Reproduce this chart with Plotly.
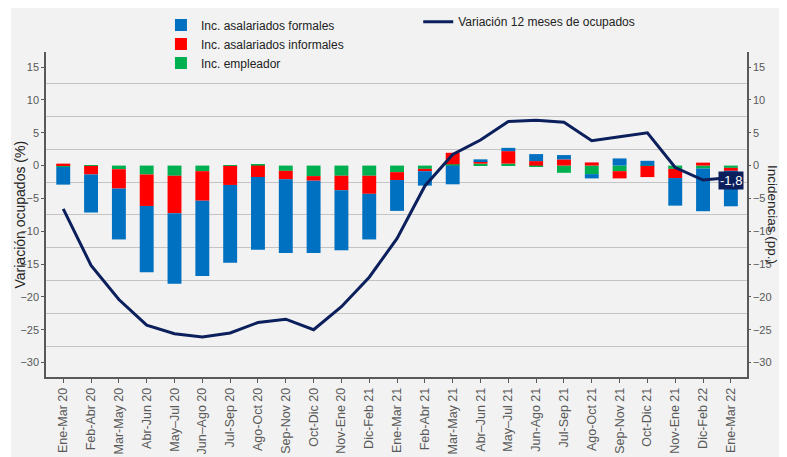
import plotly.graph_objects as go

categories = ["Ene-Mar 20", "Feb-Abr 20", "Mar-May 20", "Abr-Jun 20", "May–Jul 20",
              "Jun–Ago 20", "Jul-Sep 20", "Ago-Oct 20", "Sep-Nov 20", "Oct-Dic 20",
              "Nov-Ene 20", "Dic-Feb 21", "Ene-Mar 21", "Feb-Abr 21", "Mar-May 21",
              "Abr–Jun 21", "May–Jul 21", "Jun-Ago 21", "Jul-Sep 21", "Ago-Oct 21",
              "Sep-Nov 21", "Oct-Dic 21", "Nov-Ene 21", "Dic-Feb 22", "Ene-Mar 22"]

variacion_ocupados = [-6.6, -15.2, -20.4, -24.3, -25.6, -26.1, -25.5, -23.9, -23.4, -25.0,
                      -21.5, -17.0, -11.1, -3.1, 1.7, 3.9, 6.7, 6.9, 6.6, 3.8,
                      4.4, 5.0, -0.3, -2.2, -1.8]

inc_empleador = [-0.2, -0.05, -0.55, -1.35, -1.55, -0.85, -0.05, 0.15, -0.8, -1.6,
                 -1.55, -1.55, -1.0, -0.5, 0.2, 0.3, 0.3, -0.2, -1.1, -1.3,
                 -0.85, -0.05, -0.5, -0.45, -0.35]

inc_informales = [0.3, -1.3, -2.95, -4.8, -5.7, -4.5, -2.9, -1.75, -1.3, -0.7,
                  -2.2, -2.75, -1.2, -0.35, 1.75, 0.35, 1.9, 0.68, 0.94, 0.48,
                  -1.1, -1.7, -1.4, 0.45, -0.45]

inc_formales = [-2.7, -5.8, -7.75, -10.1, -10.75, -11.45, -11.85, -11.05, -11.2, -11.0,
                -9.15, -6.95, -4.7, -2.2, -2.85, 0.3, 0.5, 1.07, 0.66, -0.65,
                1.09, 0.73, -4.2, -6.5, -5.4]

y_ticks = [15, 10, 5, 0, -5, -10, -15, -20, -25, -30]
grid_vals = [12.5, 7.5, 2.5, -2.5, -7.5, -12.5, -17.5, -22.5, -27.5]
y_range = [-32.2, 17.3]
last_label = "-1,8"

REG = "Liberation Sans, Arial, sans-serif"
GREY = "#595959"
NAVY = "#0b1f5c"

fig = go.Figure()

fig.add_trace(go.Bar(x=categories, y=inc_empleador, name="Inc. empleador",
                     marker=dict(color="#00b050", line=dict(width=0)), legend="legend"))
fig.add_trace(go.Bar(x=categories, y=inc_informales, name="Inc. asalariados informales",
                     marker=dict(color="#ff0000", line=dict(width=0)), legend="legend"))
fig.add_trace(go.Bar(x=categories, y=inc_formales, name="Inc. asalariados formales",
                     marker=dict(color="#0070c0", line=dict(width=0)), legend="legend"))
fig.add_trace(go.Scatter(x=categories, y=variacion_ocupados, mode="lines",
                         name="Variación 12 meses de ocupados",
                         line=dict(color=NAVY, width=3), yaxis="y2", legend="legend2"))

fig.add_annotation(x=categories[-1], y=variacion_ocupados[-1], xref="x", yref="y2",
                   text=last_label, showarrow=False, bgcolor=NAVY,
                   font=dict(family=REG, size=13, color="white"), borderpad=1, yshift=-3)

fig.add_annotation(x=-0.0371, y=0.5, xref="paper", yref="paper", text="Variación ocupados (%)",
                   textangle=-90, showarrow=False, xanchor="center", yanchor="middle",
                   font=dict(family=REG, size=14, color="#222222"))
fig.add_annotation(x=1.0365, y=0.5, xref="paper", yref="paper", text="Incidencias (pp.)",
                   textangle=90, showarrow=False, xanchor="center", yanchor="middle",
                   font=dict(family=REG, size=13.5, color="#222222"))

fig.add_shape(type="rect", xref="paper", yref="paper", x0=-0.0499, x1=1.047, y0=-0.246, y1=1.14,
              fillcolor="#f2f2f2", line=dict(width=0), layer="below")

fig.update_layout(
    width=779, height=449, autosize=False,
    margin=dict(l=38, r=40, t=44, b=80, autoexpand=False),
    paper_bgcolor="white", plot_bgcolor="#f2f2f2",
    barmode="relative", bargap=0.5,
    showlegend=True,
    legend=dict(x=0.164, y=1.128, xanchor="left", yanchor="top", traceorder="reversed",
                bgcolor="rgba(0,0,0,0)", font=dict(family=REG, size=12, color="#222222"),
                tracegroupgap=0),
    legend2=dict(x=0.531, y=1.138, xanchor="left", yanchor="top",
                 bgcolor="rgba(0,0,0,0)", font=dict(family=REG, size=12, color="#222222")),
    xaxis=dict(type="category", range=[-0.62, 24.58], showline=True, linecolor=GREY, linewidth=1.5,
               ticks="outside", ticklen=4, tickcolor=GREY, tickangle=-90, showgrid=False,
               tickfont=dict(family=REG, size=12.5, color=GREY), mirror=False),
    yaxis=dict(range=y_range, tickvals=y_ticks, showgrid=False, zeroline=False,
               showline=True, linecolor=GREY, linewidth=1.5, ticks="outside", ticklen=3, tickcolor=GREY,
               tickfont=dict(family=REG, size=11, color=GREY),
               minor=dict(tickvals=grid_vals, showgrid=True, gridcolor="#c4c4c4", gridwidth=1.3, ticklen=0)),
    yaxis2=dict(range=y_range, tickvals=y_ticks, overlaying="y", side="right", showgrid=False,
                zeroline=False, showline=True, linecolor=GREY, linewidth=1.5, ticks="outside", ticklen=2,
                tickcolor=GREY, tickfont=dict(family=REG, size=11, color=GREY)),
)

fig.write_html("out.html")
